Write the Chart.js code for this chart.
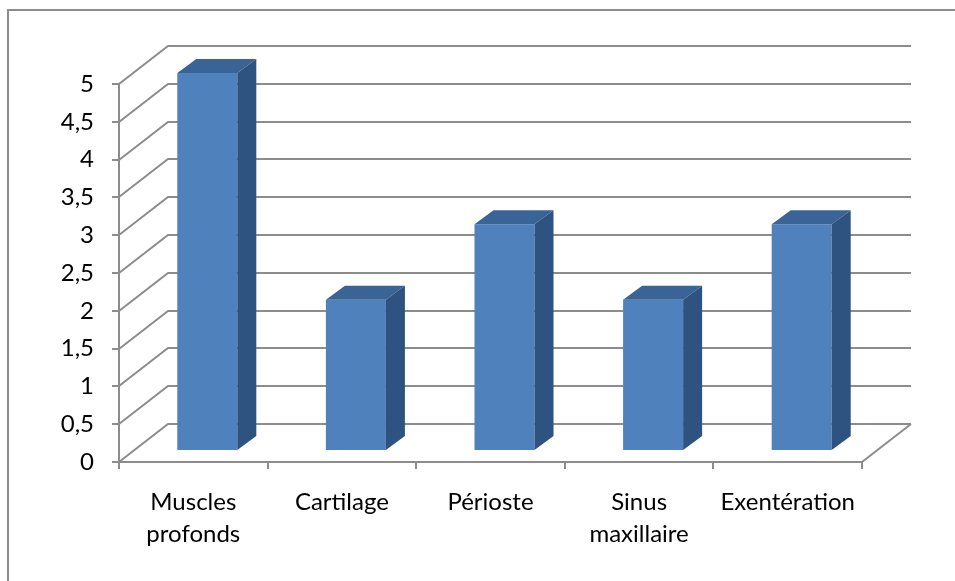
<!DOCTYPE html>
<html>
<head>
<meta charset="utf-8">
<script src="https://cdn.jsdelivr.net/npm/chart.js@4"></script>
<style>
  html, body { margin: 0; padding: 0; background: #fff; }
  #wrap { position: relative; width: 955px; height: 581px; }
</style>
</head>
<body>
<div id="wrap"><canvas id="chart" width="955" height="581"></canvas></div>
<script>
var categories = [['Muscles', 'profonds'], 'Cartilage', 'Périoste', ['Sinus', 'maxillaire'], 'Exentération'];
var values = [5, 2, 3, 2, 3];
var yTicks = [0, 0.5, 1, 1.5, 2, 2.5, 3, 3.5, 4, 4.5, 5];
var yTickLabels = ['0', '0,5', '1', '1,5', '2', '2,5', '3', '3,5', '4', '4,5', '5'];

var GRID = '#8c8c8c';
var FRONT = '#4f81bd';
var TOP = '#3b6496';
var SIDE = '#2f5381';
var FONT = 'Lato';

// fake 3d: wall depth, bar offset inside the depth, bar thickness
var WALL = { dx: 49, dy: -38 };
var SHIFT = { dx: 14, dy: -11 };
var DEPTH = { dx: 19, dy: -14 };

function poly(ctx, pts, color) {
  ctx.fillStyle = color;
  ctx.beginPath();
  ctx.moveTo(pts[0][0], pts[0][1]);
  for (var i = 1; i < pts.length; i++) ctx.lineTo(pts[i][0], pts[i][1]);
  ctx.closePath();
  ctx.fill();
}

var cubePlugin = {
  id: 'cube',
  beforeDraw: function (chart) {
    var ctx = chart.ctx;
    ctx.save();
    ctx.strokeStyle = GRID;
    ctx.lineWidth = 2;
    ctx.beginPath();
    ctx.moveTo(8, chart.height);
    ctx.lineTo(8, 10);
    ctx.lineTo(chart.width, 10);
    ctx.stroke();
    ctx.restore();
  },
  beforeDatasetsDraw: function (chart) {
    var ctx = chart.ctx;
    var x = chart.scales.x;
    var y = chart.scales.y;
    ctx.save();
    ctx.strokeStyle = GRID;
    ctx.lineWidth = 2;
    yTicks.forEach(function (v) {
      var py = Math.round(y.getPixelForValue(v));
      ctx.beginPath();
      ctx.moveTo(x.left, py);
      ctx.lineTo(x.left + WALL.dx, py + WALL.dy);
      ctx.lineTo(x.right + WALL.dx, py + WALL.dy);
      ctx.stroke();
    });
    var py0 = Math.round(y.getPixelForValue(0));
    ctx.beginPath();
    ctx.moveTo(x.right, py0);
    ctx.lineTo(x.right + WALL.dx, py0 + WALL.dy);
    ctx.stroke();
    ctx.restore();
    // bars sit a little behind the front plane
    ctx.save();
    ctx.translate(SHIFT.dx, SHIFT.dy);
  },
  afterDatasetsDraw: function (chart) {
    var ctx = chart.ctx;
    chart.getDatasetMeta(0).data.forEach(function (bar) {
      var p = bar.getProps(['x', 'y', 'base', 'width'], true);
      var l = p.x - p.width / 2;
      var r = p.x + p.width / 2;
      poly(ctx, [[l, p.y], [l + DEPTH.dx, p.y + DEPTH.dy], [r + DEPTH.dx, p.y + DEPTH.dy], [r, p.y]], TOP);
      poly(ctx, [[r, p.y], [r + DEPTH.dx, p.y + DEPTH.dy], [r + DEPTH.dx, p.base + DEPTH.dy], [r, p.base]], SIDE);
    });
    ctx.restore();
  }
};

new Chart(document.getElementById('chart'), {
  type: 'bar',
  data: {
    labels: categories,
    datasets: [{
      data: values,
      backgroundColor: FRONT,
      borderWidth: 0,
      barPercentage: 0.404,
      categoryPercentage: 1,
      clip: false
    }]
  },
  options: {
    responsive: false,
    animation: false,
    layout: { padding: { top: 84, right: 93, left: 0, bottom: 0 } },
    plugins: { legend: { display: false }, tooltip: { enabled: false } },
    scales: {
      x: {
        afterFit: function (s) { s.height = 119; },
        border: { display: true, color: GRID, width: 2 },
        grid: { drawOnChartArea: false, drawTicks: true, tickLength: 7, color: GRID, lineWidth: 2, offset: true },
        ticks: { color: '#000', padding: 18, maxRotation: 0, autoSkip: false, font: { family: FONT, size: 24, lineHeight: 1.3 } }
      },
      y: {
        min: 0,
        max: 5,
        afterFit: function (s) { s.width = 119; },
        afterBuildTicks: function (s) { s.ticks = yTicks.map(function (v) { return { value: v }; }); },
        border: { display: true, color: GRID, width: 2 },
        grid: { drawOnChartArea: false, drawTicks: true, tickLength: 7, color: GRID, lineWidth: 2 },
        ticks: {
          color: '#000',
          padding: 18,
          font: { family: FONT, size: 24 },
          callback: function (v, i) { return yTickLabels[i]; }
        }
      }
    }
  },
  plugins: [cubePlugin]
});
</script>
</body>
</html>
